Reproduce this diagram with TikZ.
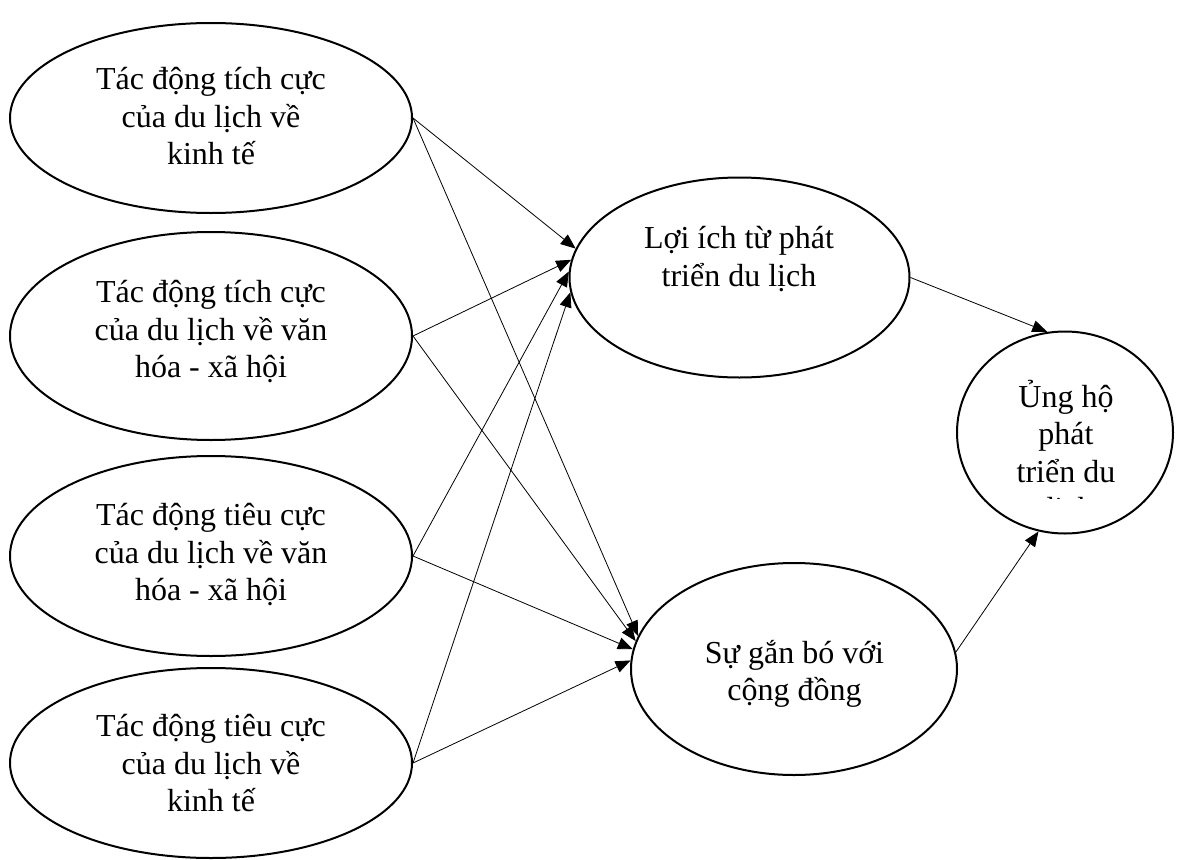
\documentclass[tikz,border=0pt]{standalone}
\usepackage{fontspec}
\setmainfont{Liberation Serif}
\usetikzlibrary{arrows.meta,shapes.geometric}
\tikzset{
  construct/.style={draw, ellipse, line width=2bp, inner sep=0pt, fill=white},
  lbl/.style={align=center, inner sep=0pt, font=\fontsize{32bp}{37.5bp}\selectfont,
    execute at begin node={\rule{0pt}{34bp}},
    execute at end node={\rule[-10bp]{0pt}{10bp}}},
  link/.style={line width=0.8bp, -{Triangle[length=15bp,width=12bp]}}
}
\begin{document}
\begin{tikzpicture}[x=1bp,y=-1bp]
\path[use as bounding box, fill=white] (0,0) rectangle (1180,860);
% constructs
\node[construct, minimum width=402bp, minimum height=190bp] (E1) at (211,118) {};
\node[construct, minimum width=402bp, minimum height=208bp] (E2) at (211,336) {};
\node[construct, minimum width=402bp, minimum height=200bp] (E3) at (211,556) {};
\node[construct, minimum width=402bp, minimum height=190bp] (E4) at (211,763) {};
\node[construct, minimum width=340bp, minimum height=200bp] (LI) at (739.5,277.5) {};
\node[construct, minimum width=326bp, minimum height=212bp] (S) at (794,669) {};
\node[construct, minimum width=216bp, minimum height=202bp] (U) at (1065,432.5) {};
% labels
\node[lbl] (T1) at (211,121) {Tác động tích cực\\của du lịch về\\kinh tế};
\node[lbl] (T2) at (211,334) {Tác động tích cực\\của du lịch về văn\\hóa - xã hội};
\node[lbl] (T3) at (211,557) {Tác động tiêu cực\\của du lịch về văn\\hóa - xã hội};
\node[lbl] (T4) at (211,768) {Tác động tiêu cực\\của du lịch về\\kinh tế};
\node[lbl] (T5) at (739,261.5) {Lợi ích từ phát\\triển du lịch};
\node[lbl] (T6) at (794.5,675.5) {Sự gắn bó với\\cộng đồng};
\begin{scope}
  \clip (950,300) rectangle (1180,498);
  \node[lbl] (T7) at (1066,455) {Ủng hộ\\phát\\triển du\\dịch};
\end{scope}
% connectors
\draw[link] (E1.east) -- (LI.170);
\draw[link] (E2.east) -- (LI.174);
\draw[link] (E3.east) -- (LI.178);
\draw[link] (E4.east) -- (LI.185);
\draw[link] (E1.east) -- (S.168);
\draw[link] (E2.east) -- (S.170);
\draw[link] (E3.east) -- (S.173);
\draw[link] (E4.east) -- (S.177);
\draw[link] (LI.east) -- (U.100);
\draw[link] (S.6) -- (U.255);
\end{tikzpicture}
\end{document}
